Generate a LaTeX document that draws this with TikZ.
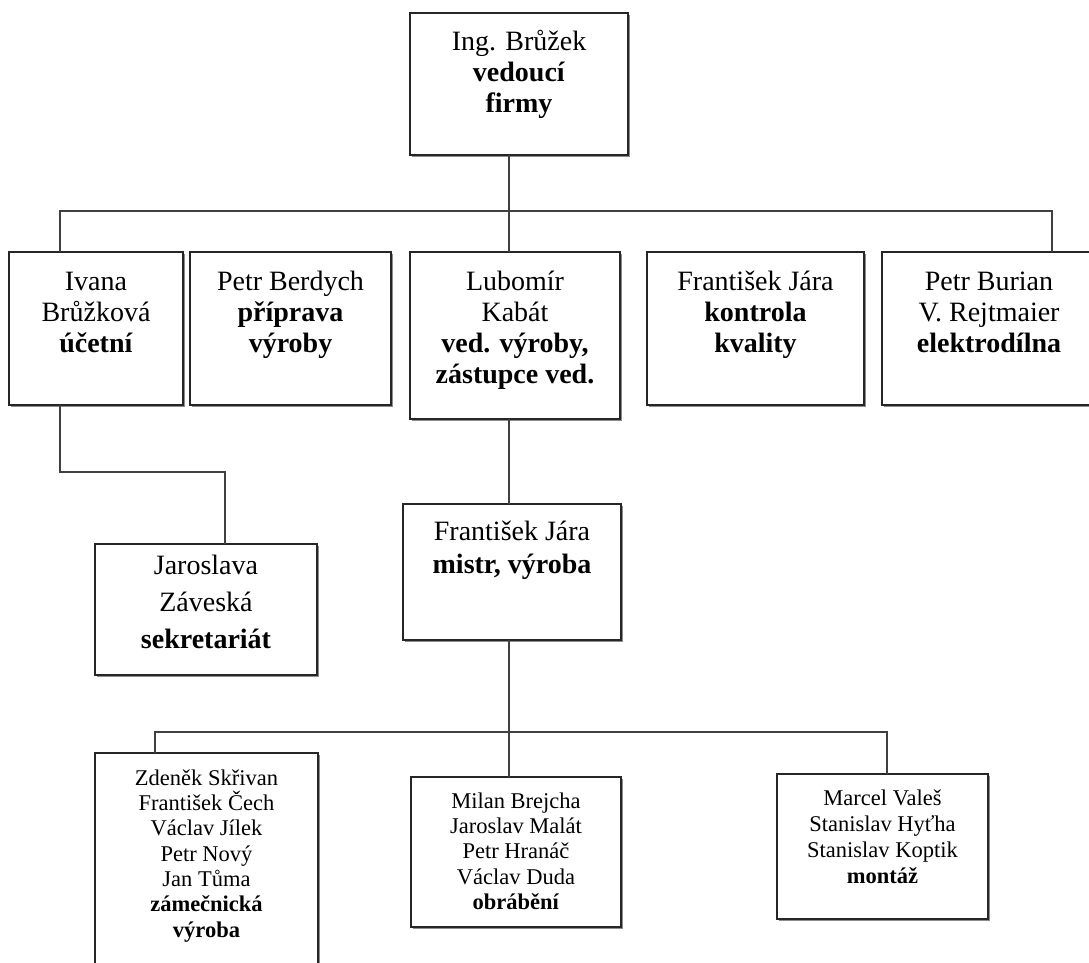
\documentclass[tikz,border=0pt]{standalone}
\usepackage{fontspec}
\setmainfont{Liberation Serif}
\usetikzlibrary{shadows}
\tikzset{
  orgbox/.style={draw=black!85, line width=1.4pt, fill=white, rectangle, inner sep=0pt, outer sep=0pt, anchor=north west,
    drop shadow={shadow xshift=2pt, shadow yshift=-2pt, fill=black!45, opacity=1}},
  bigtxt/.style={font=\fontsize{28}{31}\selectfont, align=center, anchor=north, inner sep=0pt, text=black},
  smalltxt/.style={font=\fontsize{22.5}{25.3}\selectfont, align=center, anchor=north, inner sep=0pt, text=black},
  conn/.style={draw=black!75, line width=1.4pt},
}
\newcommand{\firstbig}{\rule{0pt}{24pt}}
\newcommand{\firstsmall}{\rule{0pt}{20pt}}
\begin{document}
\begin{tikzpicture}[x=1pt,y=-1pt]
\useasboundingbox (0,0) rectangle (1089,962);
\clip (0,0) rectangle (1089,962);
% junction coordinates
\coordinate (busL) at (60,211);
\coordinate (busR) at (1052,211);
\coordinate (spine) at (509,211);
\coordinate (ivA) at (60,472);
\coordinate (ivB) at (225,472);
\coordinate (bus2L) at (155,732);
\coordinate (bus2R) at (887,732);
\coordinate (spine2) at (509,732);
% boxes
\node[orgbox, minimum width=218pt, minimum height=142pt] (top) at (410,13) {};
\node[orgbox, minimum width=174pt, minimum height=153pt] (ivana) at (9,252) {};
\node[orgbox, minimum width=201pt, minimum height=153pt] (berdych) at (190,252) {};
\node[orgbox, minimum width=210pt, minimum height=167pt] (lub) at (410,252) {};
\node[orgbox, minimum width=217pt, minimum height=153pt] (kontrola) at (647,252) {};
\node[orgbox, minimum width=214pt, minimum height=153pt] (burian) at (882,252) {};
\node[orgbox, minimum width=222pt, minimum height=131pt] (jar) at (95,544) {};
\node[orgbox, minimum width=218pt, minimum height=136pt] (mistr) at (403,504) {};
\node[orgbox, minimum width=223pt, minimum height=260pt] (zden) at (95,753) {};
\node[orgbox, minimum width=210pt, minimum height=150pt] (milan) at (411,777) {};
\node[orgbox, minimum width=211pt, minimum height=145pt] (marcel) at (777,774) {};
% connectors
\draw[conn] (spine |- top.south) -- (spine |- lub.north);
\draw[conn] (busL |- ivana.north) -- (busL) -- (busR) -- (busR |- burian.north);
\draw[conn] (ivA |- ivana.south) -- (ivA) -- (ivB) -- (ivB |- jar.north);
\draw[conn] (spine |- lub.south) -- (spine |- mistr.north);
\draw[conn] (spine2 |- mistr.south) -- (spine2 |- milan.north);
\draw[conn] (bus2L |- zden.north) -- (bus2L) -- (bus2R) -- (bus2R |- marcel.north);
% texts
\node[bigtxt] (ttop) at (top.north |- 0,26) {\firstbig Ing. Brůžek\\\textbf{vedoucí}\\\textbf{firmy}};
\node[bigtxt] (tivana) at (ivana.north |- 0,266) {\firstbig Ivana\\Brůžková\\\textbf{účetní}};
\node[bigtxt] (tberdych) at (berdych.north |- 0,266) {\firstbig Petr Berdych\\\textbf{příprava}\\\textbf{výroby}};
\node[bigtxt] (tlub) at (lub.north |- 0,266) {\firstbig Lubomír\\Kabát\\\textbf{ved. výroby,}\\\textbf{zástupce ved.}};
\node[bigtxt] (tkontrola) at (kontrola.north |- 0,266) {\firstbig František Jára\\\textbf{kontrola}\\\textbf{kvality}};
\node[bigtxt] (tburian) at (burian.north |- 0,266) {\firstbig Petr Burian\\V. Rejtmaier\\\textbf{elektrodílna}};
\node[bigtxt, font=\fontsize{28}{37}\selectfont] (tjar) at (jar.north |- 0,550) {\firstbig Jaroslava\\Záveská\\\textbf{sekretariát}};
\node[bigtxt, font=\fontsize{28}{33}\selectfont] (tmistr) at (mistr.north |- 0,516) {\firstbig František Jára\\\textbf{mistr, výroba}};
\node[smalltxt] (tzden) at (zden.north |- 0,765) {\firstsmall Zdeněk Skřivan\\František Čech\\Václav Jílek\\Petr Nový\\Jan Tůma\\\textbf{zámečnická}\\\textbf{výroba}};
\node[smalltxt] (tmilan) at (milan.north |- 0,788) {\firstsmall Milan Brejcha\\Jaroslav Malát\\Petr Hranáč\\Václav Duda\\\textbf{obrábění}};
\node[smalltxt, font=\fontsize{22.5}{26}\selectfont] (tmarcel) at (marcel.north |- 0,785) {\firstsmall Marcel Valeš\\Stanislav Hyťha\\Stanislav Koptik\\\textbf{montáž}};
\end{tikzpicture}
\end{document}
